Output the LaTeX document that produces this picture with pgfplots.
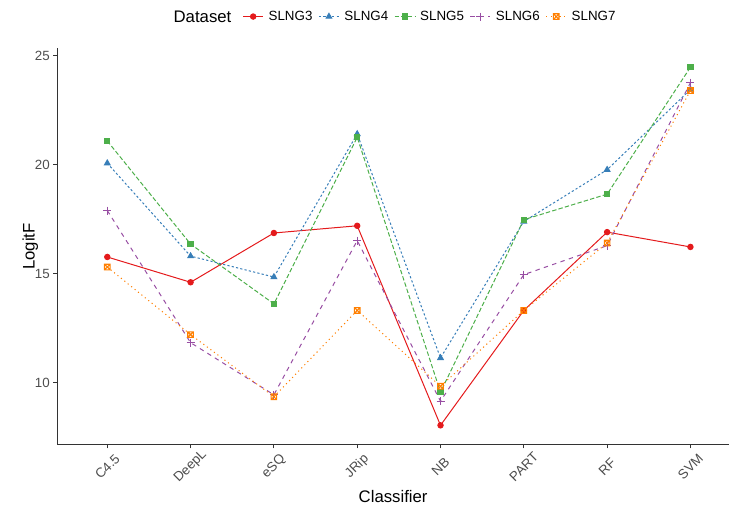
\documentclass[border=0pt]{standalone}
\usepackage{fontspec}
\setmainfont{Liberation Sans}
\usepackage{pgfplots}
\pgfplotsset{compat=1.18}
\usetikzlibrary{plotmarks}
\definecolor{c3}{HTML}{E41A1C}
\definecolor{c4}{HTML}{377EB8}
\definecolor{c5}{HTML}{4DAF4A}
\definecolor{c6}{HTML}{984EA3}
\definecolor{c7}{HTML}{FF7F00}
\definecolor{tickgray}{HTML}{4D4D4D}
\definecolor{axgray}{HTML}{333333}
\pgfdeclareplotmark{boxx}{%
  \pgfpathrectangle{\pgfpoint{-\pgfplotmarksize}{-\pgfplotmarksize}}{\pgfpoint{2\pgfplotmarksize}{2\pgfplotmarksize}}%
  \pgfpathmoveto{\pgfpoint{-\pgfplotmarksize}{-\pgfplotmarksize}}\pgfpathlineto{\pgfpoint{\pgfplotmarksize}{\pgfplotmarksize}}%
  \pgfpathmoveto{\pgfpoint{-\pgfplotmarksize}{\pgfplotmarksize}}\pgfpathlineto{\pgfpoint{\pgfplotmarksize}{-\pgfplotmarksize}}%
  \pgfusepathqstroke}
\newcommand{\ticksize}{\fontsize{13.4}{15}\selectfont}
\newcommand{\titlesize}{\fontsize{16.8}{19}\selectfont}

\pgfplotstableread{
x S3 S4 S5 S6 S7
1 15.77 20.07 21.09 17.90 15.31
2 14.61 15.81 16.36 11.84 12.21
3 16.87 14.85 13.62 9.45 9.36
4 17.20 21.41 21.26 16.52 13.32
5 8.05 11.14 9.57 9.16 9.84
6 13.32 17.40 17.48 14.96 13.32
7 16.91 19.77 18.65 16.29 16.41
8 16.23 23.45 24.47 23.76 23.40
}\data

\begin{document}
\begin{tikzpicture}
\begin{axis}[
  at={(57.3bp,68.7bp)}, anchor=south west,
  scale only axis,
  width=671.7bp, height=395.8bp,
  xmin=0.4, xmax=8.463,
  ymin=7.18, ymax=25.33,
  axis lines*=left,
  axis line style={axgray, line width=1bp},
  tick align=outside,
  major tick length=4bp,
  tick style={axgray, line width=0.8bp},
  xtick={1,2,3,4,5,6,7,8},
  xticklabels={C4.5,DeepL,eSQ,JRip,NB,PART,RF,SVM},
  ytick={10,15,20,25},
  xticklabel style={font=\ticksize, text=tickgray, rotate=45, anchor=center, xshift=-13bp, yshift=-13bp},
  yticklabel style={font=\ticksize, text=tickgray},
  /pgf/number format/assume math mode=true,
  xlabel={Classifier}, ylabel={LogitF},
  label style={font=\titlesize},
  xlabel style={at={(axis description cs:0.5,0)}, anchor=center, yshift=-52.5bp},
  ylabel style={at={(axis description cs:0,0.5)}, anchor=center, rotate=0, yshift=27bp},
  legend columns=-1,
  legend style={draw=none, fill=none, font=\ticksize, at={(axis description cs:0.555,1.0807)}, anchor=center,
    /tikz/every odd column/.append style={column sep=3bp},
    /tikz/every even column/.append style={column sep=4bp}, inner sep=0pt},
  legend image code/.code={\draw[mark repeat=2,mark phase=2] plot coordinates {(0bp,0bp)(10bp,0bp)(20bp,0bp)};},
  clip=false,
]
\addplot[c3, line width=1bp, mark=*, mark size=2.7bp, mark options={solid}] table[x=x,y=S3]{\data};
\addlegendentry{SLNG3}
\addplot[c4, line width=1bp, dash pattern=on 2.2bp off 2.2bp, mark=triangle*, mark size=3.2bp, mark options={solid}] table[x=x,y=S4]{\data};
\addlegendentry{SLNG4}
\addplot[c5, line width=1bp, dash pattern=on 4.4bp off 2.2bp, mark=square*, mark size=2.6bp, mark options={solid}] table[x=x,y=S5]{\data};
\addlegendentry{SLNG5}
\addplot[c6, line width=1bp, dash pattern=on 4.4bp off 4.4bp, mark=+, mark size=4bp, mark options={solid, line width=1.2bp}] table[x=x,y=S6]{\data};
\addlegendentry{SLNG6}
\addplot[c7, line width=1bp, dash pattern=on 1.1bp off 3.3bp, mark=boxx, mark size=2.8bp, mark options={solid, line width=1.1bp}] table[x=x,y=S7]{\data};
\addlegendentry{SLNG7}
\end{axis}
\node[font=\titlesize, anchor=center] at (202.5bp,496.5bp) {Dataset};
\pgfresetboundingbox
\path (0,0) rectangle (729bp,513bp);
\end{tikzpicture}
\end{document}
